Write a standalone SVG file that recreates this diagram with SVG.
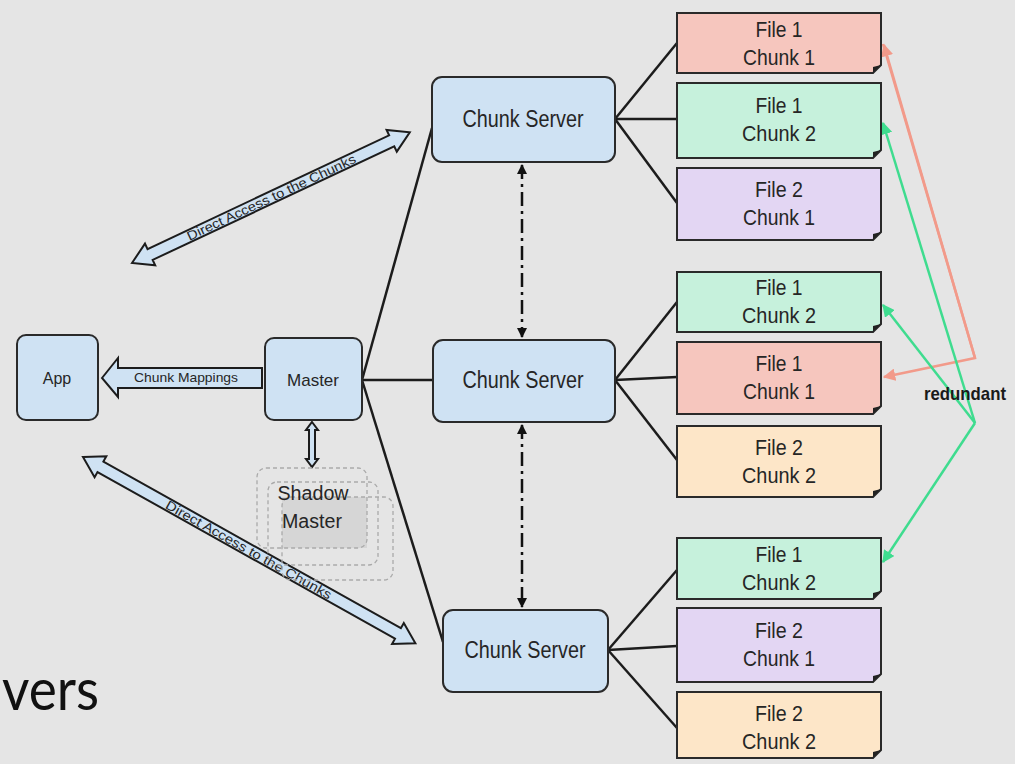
<svg xmlns="http://www.w3.org/2000/svg" width="1015" height="764" viewBox="0 0 1015 764">
<style>
  .bg{fill:#e5e5e5}
  .node{fill:#cfe2f3;stroke:#2a2a2a;stroke-width:2}
  .lbl{font-family:"Liberation Sans",Arial,sans-serif;fill:#262626;text-anchor:middle}
  .ctext{font-family:"Liberation Sans",Arial,sans-serif;font-size:22px;fill:#262626;text-anchor:middle}
  .chunk{stroke:#2a2a2a;stroke-width:2}
  .fold{fill:#222}
  .pink{fill:#f6c6be}
  .green{fill:#c6f1dc}
  .purple{fill:#e3d6f3}
  .orange{fill:#fde6c8}
  .edge{stroke:#1c1c1c;stroke-width:2.5;fill:none}
  .dd{stroke:#111;stroke-width:2.5;fill:none;stroke-dasharray:14 5 3 5}
  .red1{stroke:#f29a8a;stroke-width:2.5;fill:none}
  .red2{stroke:#3fdc8f;stroke-width:2.5;fill:none}
  .barrow{fill:#cfe2f3;stroke:#1c1c1c;stroke-width:2}
  .shadow{fill:none;stroke:#aaa;stroke-width:1.3;stroke-dasharray:4 3}
</style>
<defs>
  <marker id="ah" viewBox="0 0 10 10" refX="9" refY="5" markerWidth="4" markerHeight="4" orient="auto-start-reverse">
    <path d="M0,0 L10,5 L0,10 z" fill="#111"/>
  </marker>
  <marker id="ahp" viewBox="0 0 10 10" refX="9" refY="5" markerWidth="5" markerHeight="5" orient="auto">
    <path d="M0,0 L10,5 L0,10 z" fill="#f29a8a"/>
  </marker>
  <marker id="ahg" viewBox="0 0 10 10" refX="9" refY="5" markerWidth="5" markerHeight="5" orient="auto">
    <path d="M0,0 L10,5 L0,10 z" fill="#3fdc8f"/>
  </marker>
</defs>
<rect class="bg" x="0" y="0" width="1015" height="764"/>

<g id="connectors">
  <line class="edge" x1="362" y1="380" x2="432" y2="128"/>
  <line class="edge" x1="362" y1="380" x2="433" y2="380"/>
  <line class="edge" x1="362" y1="380" x2="443" y2="642"/>
  <line class="edge" x1="615" y1="119" x2="677" y2="43"/>
  <line class="edge" x1="615" y1="119" x2="677" y2="119"/>
  <line class="edge" x1="615" y1="119" x2="677" y2="203"/>
  <line class="edge" x1="615" y1="380" x2="677" y2="302"/>
  <line class="edge" x1="615" y1="380" x2="677" y2="377"/>
  <line class="edge" x1="615" y1="380" x2="677" y2="460"/>
  <line class="edge" x1="608" y1="650" x2="677" y2="570"/>
  <line class="edge" x1="608" y1="650" x2="677" y2="646"/>
  <line class="edge" x1="608" y1="650" x2="677" y2="728"/>
  <line class="dd" x1="522" y1="165" x2="522" y2="337" marker-start="url(#ah)" marker-end="url(#ah)"/>
  <line class="dd" x1="522" y1="425" x2="522" y2="607" marker-start="url(#ah)" marker-end="url(#ah)"/>
  <polyline class="red1" points="883,44 975,358 884,377" marker-end="url(#ahp)"/>
  <line class="red1" x1="975" y1="358" x2="884" y2="45" marker-end="url(#ahp)"/>
  <line class="red2" x1="975" y1="423" x2="883" y2="123" marker-end="url(#ahg)"/>
  <line class="red2" x1="975" y1="423" x2="883" y2="305" marker-end="url(#ahg)"/>
  <line class="red2" x1="975" y1="423" x2="883" y2="562" marker-end="url(#ahg)"/>
  <polygon class="barrow" points="102,378 118,358 118,368 262,368 262,388 118,388 118,397"/>
  <text class="lbl" x="186" y="382" font-size="13" textLength="104" lengthAdjust="spacingAndGlyphs">Chunk Mappings</text>
  <polygon class="barrow" stroke-width="1.5" points="312,422 318,430 315,430 315,459 318,459 312,467 306,459 309,459 309,430 306,430"/>
  <g transform="translate(132,263) rotate(-25.2)">
    <polygon class="barrow" points="0,0 20,-12 20,-6 287,-6 287,-12 307,0 287,12 287,6 20,6 20,12"/>
    <text class="lbl" x="154" y="4.5" font-size="13" textLength="185" lengthAdjust="spacingAndGlyphs">Direct Access to the Chunks</text>
  </g>
  <g transform="translate(83,457) rotate(29.26)">
    <polygon class="barrow" points="0,0 20,-12 20,-6 361,-6 361,-12 381,0 361,12 361,6 20,6 20,12"/>
    <text class="lbl" x="190" y="4.5" font-size="13" textLength="188" lengthAdjust="spacingAndGlyphs">Direct Access to the Chunks</text>
  </g>
</g>

<g id="app">
  <rect class="node" x="17" y="335" width="81" height="85" rx="9"/>
  <text class="lbl" x="57" y="384" font-size="16">App</text>
</g>
<g id="master">
  <rect class="node" x="265" y="338" width="97" height="82" rx="9"/>
  <text class="lbl" x="313" y="386" font-size="17" textLength="52" lengthAdjust="spacingAndGlyphs">Master</text>
</g>
<g id="shadow-master">
  <rect x="282" y="497" width="85" height="51" fill="#d6d6d6"/>
  <rect class="shadow" x="282" y="497" width="111" height="83" rx="9"/>
  <rect class="shadow" x="268" y="482" width="110" height="83" rx="9"/>
  <rect class="shadow" x="257" y="468" width="110" height="80" rx="9"/>
  <text class="lbl" x="313" y="500" font-size="20" textLength="71" lengthAdjust="spacingAndGlyphs">Shadow</text>
  <text class="lbl" x="312" y="528" font-size="20" textLength="60" lengthAdjust="spacingAndGlyphs">Master</text>
</g>
<g id="cs1">
  <rect class="node" x="432" y="77" width="183" height="85" rx="10"/>
  <text class="lbl" x="523" y="127" font-size="23" textLength="121" lengthAdjust="spacingAndGlyphs">Chunk Server</text>
</g>
<g id="cs2">
  <rect class="node" x="433" y="340" width="182" height="82" rx="10"/>
  <text class="lbl" x="523" y="388" font-size="23" textLength="121" lengthAdjust="spacingAndGlyphs">Chunk Server</text>
</g>
<g id="cs3">
  <rect class="node" x="443" y="610" width="165" height="82" rx="10"/>
  <text class="lbl" x="525" y="658" font-size="23" textLength="121" lengthAdjust="spacingAndGlyphs">Chunk Server</text>
</g>

<g id="b1">
  <path class="chunk pink" d="M677,13 H881 V65 L873,73 H677 Z"/>
  <path class="fold" d="M881,65 L873,73 L873,67 Z"/>
  <text class="ctext" x="779" y="37" textLength="47" lengthAdjust="spacingAndGlyphs">File 1</text>
  <text class="ctext" x="779" y="65" textLength="72" lengthAdjust="spacingAndGlyphs">Chunk 1</text>
</g>
<g id="b2">
  <path class="chunk green" d="M677,83 H881 V150 L873,158 H677 Z"/>
  <path class="fold" d="M881,150 L873,158 L873,152 Z"/>
  <text class="ctext" x="779" y="113" textLength="47" lengthAdjust="spacingAndGlyphs">File 1</text>
  <text class="ctext" x="779" y="141" textLength="74" lengthAdjust="spacingAndGlyphs">Chunk 2</text>
</g>
<g id="b3">
  <path class="chunk purple" d="M677,168 H881 V232 L873,240 H677 Z"/>
  <path class="fold" d="M881,232 L873,240 L873,234 Z"/>
  <text class="ctext" x="779" y="197" textLength="48" lengthAdjust="spacingAndGlyphs">File 2</text>
  <text class="ctext" x="779" y="225" textLength="72" lengthAdjust="spacingAndGlyphs">Chunk 1</text>
</g>
<g id="b4">
  <path class="chunk green" d="M677,272 H881 V324 L873,332 H677 Z"/>
  <path class="fold" d="M881,324 L873,332 L873,326 Z"/>
  <text class="ctext" x="779" y="295" textLength="47" lengthAdjust="spacingAndGlyphs">File 1</text>
  <text class="ctext" x="779" y="323" textLength="74" lengthAdjust="spacingAndGlyphs">Chunk 2</text>
</g>
<g id="b5">
  <path class="chunk pink" d="M677,342 H881 V406 L873,414 H677 Z"/>
  <path class="fold" d="M881,406 L873,414 L873,408 Z"/>
  <text class="ctext" x="779" y="371" textLength="47" lengthAdjust="spacingAndGlyphs">File 1</text>
  <text class="ctext" x="779" y="399" textLength="72" lengthAdjust="spacingAndGlyphs">Chunk 1</text>
</g>
<g id="b6">
  <path class="chunk orange" d="M677,426 H881 V489 L873,497 H677 Z"/>
  <path class="fold" d="M881,489 L873,497 L873,491 Z"/>
  <text class="ctext" x="779" y="455" textLength="48" lengthAdjust="spacingAndGlyphs">File 2</text>
  <text class="ctext" x="779" y="483" textLength="74" lengthAdjust="spacingAndGlyphs">Chunk 2</text>
</g>
<g id="b7">
  <path class="chunk green" d="M677,538 H881 V591 L873,599 H677 Z"/>
  <path class="fold" d="M881,591 L873,599 L873,593 Z"/>
  <text class="ctext" x="779" y="562" textLength="47" lengthAdjust="spacingAndGlyphs">File 1</text>
  <text class="ctext" x="779" y="590" textLength="74" lengthAdjust="spacingAndGlyphs">Chunk 2</text>
</g>
<g id="b8">
  <path class="chunk purple" d="M677,608 H881 V674 L873,682 H677 Z"/>
  <path class="fold" d="M881,674 L873,682 L873,676 Z"/>
  <text class="ctext" x="779" y="638" textLength="48" lengthAdjust="spacingAndGlyphs">File 2</text>
  <text class="ctext" x="779" y="666" textLength="72" lengthAdjust="spacingAndGlyphs">Chunk 1</text>
</g>
<g id="b9">
  <path class="chunk orange" d="M677,692 H881 V750 L873,758 H677 Z"/>
  <path class="fold" d="M881,750 L873,758 L873,752 Z"/>
  <text class="ctext" x="779" y="721" textLength="48" lengthAdjust="spacingAndGlyphs">File 2</text>
  <text class="ctext" x="779" y="749" textLength="74" lengthAdjust="spacingAndGlyphs">Chunk 2</text>
</g>

<text x="924" y="400" font-family="'Liberation Sans',Arial,sans-serif" font-size="19" font-weight="bold" fill="#1a1a1a" textLength="82" lengthAdjust="spacingAndGlyphs">redundant</text>
<text x="2" y="710" font-family="Lato,'Open Sans',sans-serif" font-size="58" fill="#111" textLength="97" lengthAdjust="spacingAndGlyphs">vers</text>
</svg>
